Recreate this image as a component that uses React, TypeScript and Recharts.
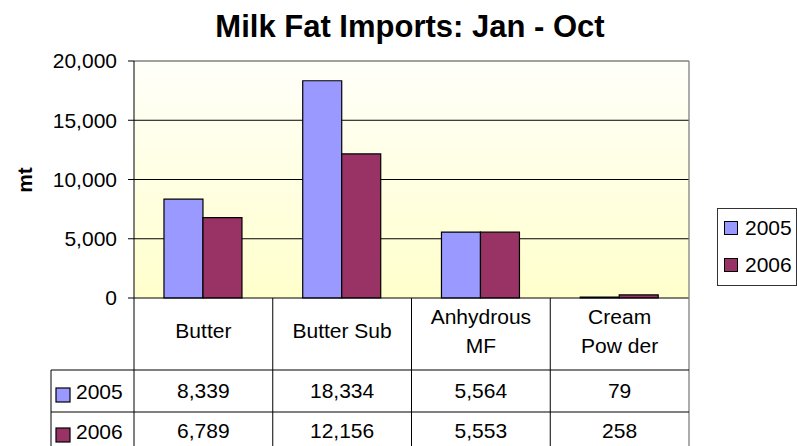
import React from 'react';
import { BarChart, Bar, XAxis, YAxis, CartesianGrid, Legend, ReferenceLine, Customized } from 'recharts';

const categories = ['Butter', 'Butter Sub', 'Anhydrous MF', 'Cream Powder'];
const categoryLabelLines = [['Butter'], ['Butter Sub'], ['Anhydrous', 'MF'], ['Cream', 'Pow der']];
const seriesNames = ['2005', '2006'];
const values2005 = [8339, 18334, 5564, 79];
const values2006 = [6789, 12156, 5553, 258];
const yTicks = [0, 5000, 10000, 15000, 20000];
const colors = ['#9999FF', '#993366'];

const data = categories.map((c, i) => ({ category: c, s2005: values2005[i], s2006: values2006[i] }));
const seriesRows = [values2005, values2006];

const FONT = '"Liberation Sans", Arial, sans-serif';
const FS = 21;
const W = 797;
const H = 446;
const PLOT_LEFT = 134;
const PLOT_RIGHT = 689;
const PLOT_TOP = 61;
const PLOT_BOTTOM = 298;
const BAND = (PLOT_RIGHT - PLOT_LEFT) / categories.length;
const ROW1 = 370;
const ROW2 = 412;
const TABLE_LEFT = 51;
const fmt = (v: number) => v.toLocaleString('en-US');

const TableTick = (props: any) => {
  const { x, index } = props;
  const left = x - BAND / 2;
  const right = x + BAND / 2;
  const lines = categoryLabelLines[index] || [];
  const last = index === categories.length - 1;
  const baselines = lines.length === 1 ? [338] : [324, 353];
  return (
    <g>
      <line x1={left} y1={PLOT_BOTTOM} x2={left} y2={H + 10} stroke="#000" strokeWidth={1} />
      {last && <line x1={right} y1={PLOT_TOP} x2={right} y2={H + 10} stroke="#808080" strokeWidth={1.3} />}
      <line x1={index === 0 ? TABLE_LEFT : left} y1={ROW1} x2={right} y2={ROW1} stroke="#000" strokeWidth={1} />
      <line x1={index === 0 ? TABLE_LEFT : left} y1={ROW2} x2={right} y2={ROW2} stroke="#000" strokeWidth={1} />
      {lines.map((l, i) => (
        <text key={i} x={x} y={baselines[i]} textAnchor="middle" fontFamily={FONT} fontSize={FS} fill="#000">{l}</text>
      ))}
      {seriesRows.map((row, r) => (
        <text key={'v' + r} x={x} y={r === 0 ? 398 : 438} textAnchor="middle" fontFamily={FONT} fontSize={FS} fill="#000">{fmt(row[index])}</text>
      ))}
      {index === 0 && (
        <g>
          <line x1={TABLE_LEFT} y1={ROW1} x2={TABLE_LEFT} y2={H + 10} stroke="#000" strokeWidth={1} />
          {seriesNames.map((s, r) => (
            <g key={s}>
              <rect x={56} y={r === 0 ? 388 : 428} width={14} height={14} fill={colors[r]} stroke="#000" strokeWidth={1.2} />
              <text x={76} y={r === 0 ? 399 : 439} fontFamily={FONT} fontSize={FS} fill="#000">{s}</text>
            </g>
          ))}
        </g>
      )}
    </g>
  );
};

const LegendBox = (props: any) => {
  const payload = props.payload || [];
  return (
    <div style={{ width: 80, height: 78, boxSizing: 'border-box', border: '1px solid #333', background: '#fff', fontFamily: FONT, fontSize: FS, position: 'relative' }}>
      {payload.map((p: any, i: number) => (
        <div key={p.value} style={{ position: 'absolute', left: 6, top: i === 0 ? 7 : 44, height: 24, display: 'flex', alignItems: 'center' }}>
          <span style={{ display: 'inline-block', width: 12, height: 12, border: '1px solid #000', background: p.color, marginRight: 7 }} />
          <span style={{ lineHeight: '24px', color: '#000' }}>{p.value}</span>
        </div>
      ))}
    </div>
  );
};

const Decor = () => (
  <g>
    <text x={410} y={37} textAnchor="middle" fontFamily={FONT} fontSize={31} fontWeight="bold" fill="#000">Milk Fat Imports: Jan - Oct</text>
    <text x={32} y={180} transform="rotate(-90 32 180)" textAnchor="middle" fontFamily={FONT} fontSize={FS} fontWeight="bold" fill="#000">mt</text>
  </g>
);

export default function App() {
  return (
    <div style={{ position: 'absolute', left: 0, top: 0, width: W, height: H, overflow: 'hidden', background: '#fff' }}>
      <BarChart
        width={W}
        height={H}
        data={data}
        margin={{ top: PLOT_TOP, right: W - PLOT_RIGHT, bottom: 0, left: 0 }}
        barCategoryGap="21.6%"
        barGap={0}
        style={{ fontFamily: FONT }}
      >
        <defs>
          <linearGradient id="plotBg" x1="0" y1="0" x2="0" y2="1">
            <stop offset="0%" stopColor="#FFFFFA" />
            <stop offset="100%" stopColor="#FFFFCC" />
          </linearGradient>
        </defs>
        <CartesianGrid vertical={false} horizontalValues={[5000, 10000, 15000]} stroke="#000" strokeWidth={1} fill="url(#plotBg)" fillOpacity={1} />
        <XAxis
          dataKey="category"
          height={H - PLOT_BOTTOM}
          interval={0}
          tickLine={false}
          tickSize={0}
          tickMargin={0}
          axisLine={{ stroke: '#000', strokeWidth: 1 }}
          tick={<TableTick />}
        />
        <YAxis
          width={PLOT_LEFT}
          domain={[0, 20000]}
          ticks={yTicks}
          interval={0}
          tickFormatter={fmt}
          tickSize={6}
          tickMargin={11}
          tickLine={{ stroke: '#000' }}
          axisLine={{ stroke: '#000', strokeWidth: 1 }}
          tick={{ fontSize: FS, fill: '#000', fontFamily: FONT }}
        />
        <ReferenceLine y={20000} stroke="#808080" strokeWidth={1.3} />
        <Bar dataKey="s2005" name={seriesNames[0]} fill={colors[0]} stroke="#000" strokeWidth={1.2} isAnimationActive={false} />
        <Bar dataKey="s2006" name={seriesNames[1]} fill={colors[1]} stroke="#000" strokeWidth={1.2} isAnimationActive={false} />
        <Legend
          layout="horizontal"
          align="center"
          verticalAlign="middle"
          content={<LegendBox />}
          wrapperStyle={{ left: 717, top: 208, width: 80, height: 78 }}
        />
        <Customized component={<Decor />} />
      </BarChart>
    </div>
  );
}
